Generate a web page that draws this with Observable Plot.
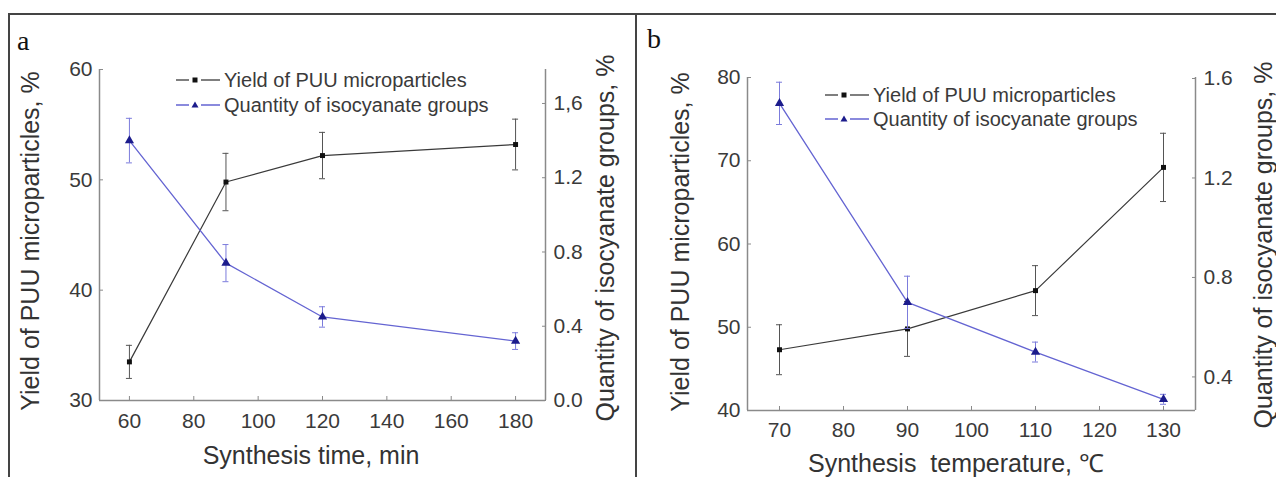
<!DOCTYPE html>
<html><head><meta charset="utf-8">
<script src="https://cdn.jsdelivr.net/npm/d3@7"></script>
<script src="https://cdn.jsdelivr.net/npm/@observablehq/plot@0.6"></script>
<style>
body{margin:0;background:#fff;}
#root{position:relative;width:1276px;height:477px;overflow:hidden;font-family:"Liberation Sans",Arial,sans-serif;color:#333;background:#fff;}
#root svg{position:absolute;left:0;top:0;}
.t{position:absolute;white-space:pre;line-height:1;}
.rot{transform:translate(-50%,-50%) rotate(-90deg);}
.ctr{transform:translate(-50%,-50%);}
.lg{position:absolute;display:flex;align-items:center;font-size:20px;white-space:nowrap;line-height:1;color:#3a3a3a;}
.lg svg{position:static !important;margin-right:3px;}
.frame{position:absolute;background:#444;}
</style></head><body><div id="root"></div>
<script>
// ---------- data: panel a (synthesis time) ----------
const timeA = [60, 90, 120, 180];
const yieldA = [33.5, 49.8, 52.2, 53.2];
const yieldErrA = [1.5, 2.6, 2.1, 2.3];
const ncoA = [1.40, 0.74, 0.45, 0.32];
const ncoErrA = [0.12, 0.10, 0.055, 0.045];
const xTicksA = [60, 80, 100, 120, 140, 160, 180];
const yTicksA = [30, 40, 50, 60];
const rTicksA = [0, 0.4, 0.8, 1.2, 1.6];
const rTickLabelsA = ["0.0", "0.4", "0.8", "1.2", "1,6"];
const xDomA = [50.7, 189.3];
const yDomA = [30, 60];
const rDomA = [0, 1.783];

// ---------- data: panel b (synthesis temperature) ----------
const tempB = [70, 90, 110, 130];
const yieldB = [47.3, 49.8, 54.4, 69.2];
const yieldErrB = [3.0, 3.3, 3.0, 4.1];
const ncoB = [1.50, 0.70, 0.50, 0.31];
const ncoErrB = [0.085, 0.105, 0.04, 0.02];
const xTicksB = [70, 80, 90, 100, 110, 120, 130];
const yTicksB = [40, 50, 60, 70, 80];
const rTicksB = [0.4, 0.8, 1.2, 1.6];
const rTickLabelsB = ["0.4", "0.8", "1.2", "1.6"];
const xDomB = [65, 135];
const yDomB = [40, 80];
const rDomB = [0.265, 1.604];

const seriesNames = ["Yield of PUU microparticles", "Quantity of isocyanate groups"];

const W = 1276, H = 477;
const FONT = '"Liberation Sans", Arial, sans-serif';
const BLACK_LINE = "#3a3a3a", BLACK_MARK = "#111", BLACK_ERR = "#555";
const BLUE_LINE = "#6464d2", BLUE_MARK = "#1c1c8c", BLUE_ERR = "#7c7cdc";
const AXIS = "#8a8a8a";

const root = document.getElementById("root");

function rows(xs, ys, es) {
  return xs.map((x, i) => ({x, y: ys[i], lo: ys[i] - es[i], hi: ys[i] + es[i]}));
}

function panel(cfg) {
  const base = {
    width: W, height: H,
    marginLeft: cfg.left, marginRight: W - cfg.right,
    marginTop: cfg.top, marginBottom: H - cfg.bottom,
    style: {background: "transparent", fontFamily: FONT, fontSize: "21px", color: "#3a3a3a"}
  };
  const yieldRows = rows(cfg.xs, cfg.yields, cfg.yieldErr);
  const ncoRows = rows(cfg.xs, cfg.nco, cfg.ncoErr);
  const leftPlot = Plot.plot({
    ...base,
    x: {domain: cfg.xDom},
    y: {domain: cfg.yDom},
    marks: [
      Plot.ruleY([cfg.yDom[0]], {stroke: AXIS, strokeWidth: 1.5}),
      Plot.ruleX(cfg.xDom, {stroke: AXIS, strokeWidth: 1.5}),
      Plot.axisX(cfg.xTicks, {tickSize: 4, dy: -4, tickFormat: () => "", label: null, stroke: AXIS}),
      Plot.axisX(cfg.xTicks, {tickSize: 0, tickPadding: cfg.xPad, label: null, fill: "#3a3a3a"}),
      Plot.axisY(cfg.yTicks, {anchor: "left", tickSize: 4, dx: 4, tickFormat: () => "", label: null, stroke: AXIS}),
      Plot.axisY(cfg.yTicks, {anchor: "left", tickSize: 0, tickPadding: 7, label: null, fill: "#3a3a3a"}),
      Plot.ruleX(yieldRows, {x: "x", y1: "lo", y2: "hi", stroke: BLACK_ERR, strokeWidth: 1}),
      Plot.ruleY(yieldRows, {y: "lo", x1: "x", x2: "x", insetLeft: -3, insetRight: -3, stroke: BLACK_ERR, strokeWidth: 1}),
      Plot.ruleY(yieldRows, {y: "hi", x1: "x", x2: "x", insetLeft: -3, insetRight: -3, stroke: BLACK_ERR, strokeWidth: 1}),
      Plot.line(yieldRows, {x: "x", y: "y", stroke: BLACK_LINE, strokeWidth: 1.2}),
      Plot.dot(yieldRows, {x: "x", y: "y", symbol: "square", r: 2.8, fill: BLACK_MARK, stroke: "none"})
    ]
  });
  const rMap = new Map(cfg.rTicks.map((t, i) => [t, cfg.rLabels[i]]));
  const rightPlot = Plot.plot({
    ...base,
    x: {domain: cfg.xDom, axis: null},
    y: {domain: cfg.rDom},
    marks: [
      Plot.axisY(cfg.rTicks, {anchor: "right", tickSize: 4, dx: -4, tickFormat: () => "", label: null, stroke: AXIS}),
      Plot.axisY(cfg.rTicks, {anchor: "right", tickSize: 0, tickPadding: 8, label: null, tickFormat: d => rMap.get(d), fill: "#3a3a3a"}),
      Plot.ruleX(ncoRows, {x: "x", y1: "lo", y2: "hi", stroke: BLUE_ERR, strokeWidth: 1}),
      Plot.ruleY(ncoRows, {y: "lo", x1: "x", x2: "x", insetLeft: -3, insetRight: -3, stroke: BLUE_ERR, strokeWidth: 1}),
      Plot.ruleY(ncoRows, {y: "hi", x1: "x", x2: "x", insetLeft: -3, insetRight: -3, stroke: BLUE_ERR, strokeWidth: 1}),
      Plot.line(ncoRows, {x: "x", y: "y", stroke: BLUE_LINE, strokeWidth: 1.3}),
      Plot.dot(ncoRows, {x: "x", y: "y", symbol: "triangle", r: 3.4, fill: BLUE_MARK, stroke: "none"})
    ]
  });
  root.appendChild(leftPlot);
  root.appendChild(rightPlot);
}

// frame lines of the figure table
function frameLine(l, t, w, h) {
  const d = document.createElement("div");
  d.className = "frame";
  Object.assign(d.style, {left: l + "px", top: t + "px", width: w + "px", height: h + "px"});
  root.appendChild(d);
}
frameLine(8, 13, W - 8, 2);
frameLine(8, 13, 2, H - 13);
frameLine(635, 13, 2, H - 13);

panel({left: 99, right: 545, top: 69, bottom: 400, xDom: xDomA, yDom: yDomA, rDom: rDomA,
  xs: timeA, yields: yieldA, yieldErr: yieldErrA, nco: ncoA, ncoErr: ncoErrA,
  xTicks: xTicksA, yTicks: yTicksA, rTicks: rTicksA, rLabels: rTickLabelsA, xPad: 13});
panel({left: 747, right: 1195, top: 77, bottom: 410, xDom: xDomB, yDom: yDomB, rDom: rDomB,
  xs: tempB, yields: yieldB, yieldErr: yieldErrB, nco: ncoB, ncoErr: ncoErrB,
  xTicks: xTicksB, yTicks: yTicksB, rTicks: rTicksB, rLabels: rTickLabelsB, xPad: 12});

function text(str, x, y, cls, size, extra) {
  const d = document.createElement("div");
  d.className = "t " + cls;
  d.textContent = str;
  Object.assign(d.style, {left: x + "px", top: y + "px", fontSize: size + "px"}, extra || {});
  root.appendChild(d);
}
// panel letters
text("a", 17, 27, "", 28, {fontFamily: '"Liberation Serif", "Times New Roman", serif', color: "#111"});
text("b", 647, 25, "", 28, {fontFamily: '"Liberation Serif", "Times New Roman", serif', color: "#111"});
// axis titles
text("Synthesis time, min", 311, 455, "ctr", 25);
text("Synthesis  temperature, \u2103", 956, 463, "ctr", 25);
text("Yield of PUU microparticles, %", 30, 241, "rot", 25);
text("Quantity of isocyanate groups, %", 605, 238, "rot", 25);
text("Yield of PUU microparticles, %", 680, 242, "rot", 25);
text("Quantity of isocyanate groups, %", 1263, 245, "rot", 25);

// legends
function legendRow(x, y, label, color, markColor, triangle) {
  const d = document.createElement("div");
  d.className = "lg";
  Object.assign(d.style, {left: x + "px", top: (y - 10) + "px", height: "20px"});
  const ns = "http://www.w3.org/2000/svg";
  const s = document.createElementNS(ns, "svg");
  s.setAttribute("width", 46); s.setAttribute("height", 12);
  const l1 = document.createElementNS(ns, "path");
  l1.setAttribute("d", "M1,6H14M26,6H45");
  l1.setAttribute("stroke", color); l1.setAttribute("stroke-width", 1.3); l1.setAttribute("fill", "none");
  s.appendChild(l1);
  const m = document.createElementNS(ns, "path");
  m.setAttribute("d", triangle ? "M20,2.5L23.5,8.5H16.5Z" : "M17.5,3.5H22.5V8.5H17.5Z");
  m.setAttribute("fill", markColor);
  s.appendChild(m);
  d.appendChild(s);
  const sp = document.createElement("span");
  sp.textContent = label;
  d.appendChild(sp);
  root.appendChild(d);
}
legendRow(175, 80, seriesNames[0], "#555", BLACK_MARK, false);
legendRow(175, 105, seriesNames[1], BLUE_LINE, BLUE_MARK, true);
legendRow(824, 95, seriesNames[0], "#555", BLACK_MARK, false);
legendRow(824, 119, seriesNames[1], BLUE_LINE, BLUE_MARK, true);
</script></body></html>
